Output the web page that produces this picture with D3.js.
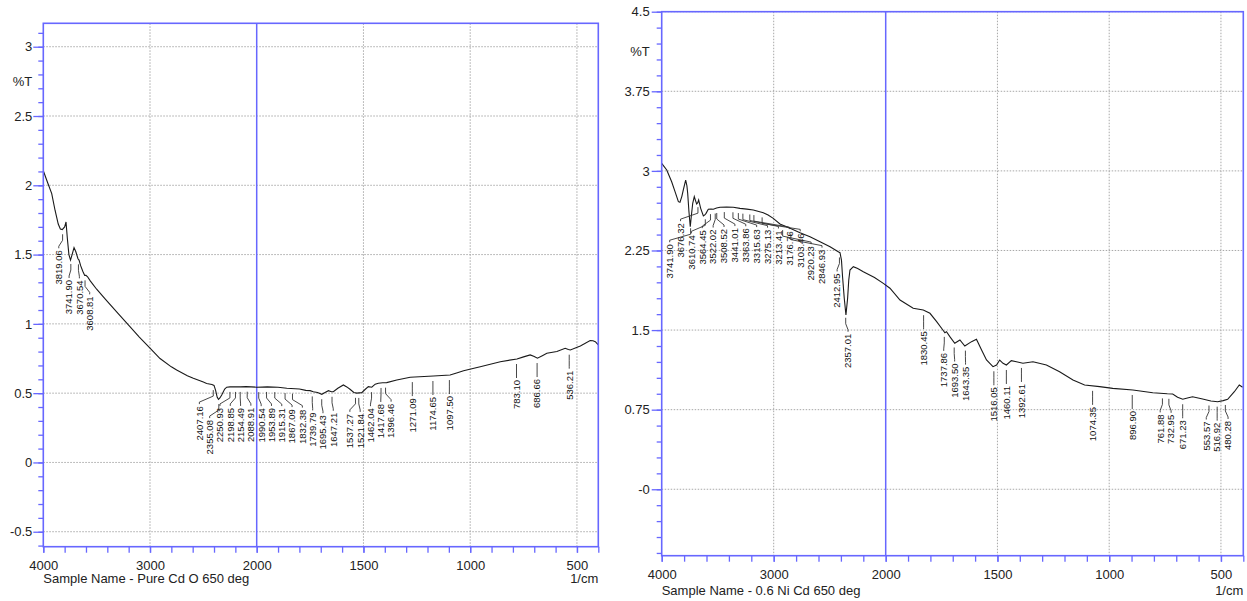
<!DOCTYPE html>
<html>
<head>
<meta charset="utf-8">
<script src="https://cdn.jsdelivr.net/npm/d3@7"></script>
<style>
  body { margin: 0; background: #fff; }
  svg { display: block; font-family: "Liberation Sans", Arial, sans-serif; }
</style>
</head>
<body>
<div id="chart"></div>
<script>
// ---- Pure CdO 650 deg ----
const cdoWave = [4000, 3960, 3921, 3890, 3860, 3840, 3822, 3800, 3787, 3775, 3760, 3745, 3730, 3712, 3695, 3675, 3665, 3650, 3630, 3612,
  3600, 3585, 3560, 3500, 3421, 3300, 3188, 3100, 3000, 2906, 2800, 2750, 2650, 2594, 2500, 2469, 2420, 2400, 2385, 2370,
  2358, 2345, 2328, 2300, 2281, 2250, 2200, 2150, 2100, 2000, 1950, 1900, 1859, 1800, 1770, 1750, 1735, 1715, 1695, 1680,
  1664, 1650, 1641, 1620, 1594, 1578, 1563, 1545, 1531, 1508, 1490, 1477, 1461, 1445, 1430, 1410, 1391, 1344, 1281, 1172,
  1094, 1060, 1031, 953, 859, 781, 750, 719, 700, 685, 660, 641, 594, 555, 540, 531, 484, 438, 425, 414, 400];
const cdoT = [2.105, 2.02, 1.94, 1.82, 1.72, 1.685, 1.68, 1.70, 1.735, 1.62, 1.50, 1.46, 1.50, 1.55, 1.52, 1.47, 1.46, 1.42, 1.38, 1.35,
  1.35, 1.34, 1.31, 1.25, 1.18, 1.075, 0.98, 0.905, 0.825, 0.75, 0.69, 0.667, 0.625, 0.607, 0.58, 0.57, 0.562, 0.556, 0.52, 0.47,
  0.455, 0.465, 0.487, 0.53, 0.543, 0.545, 0.545, 0.545, 0.547, 0.543, 0.545, 0.543, 0.535, 0.53, 0.52, 0.518, 0.51, 0.505, 0.492, 0.505,
  0.518, 0.51, 0.51, 0.535, 0.559, 0.545, 0.528, 0.505, 0.50, 0.504, 0.53, 0.547, 0.543, 0.565, 0.571, 0.575, 0.576, 0.595, 0.615, 0.624,
  0.631, 0.648, 0.662, 0.691, 0.727, 0.747, 0.762, 0.776, 0.765, 0.752, 0.772, 0.788, 0.80, 0.824, 0.815, 0.812, 0.84, 0.879, 0.878, 0.872, 0.848];
const cdoPeaks = [3819.06, 3741.90, 3670.54, 3608.81, 2407.16, 2355.08, 2250.93, 2198.85, 2154.49, 2088.91, 1990.54, 1953.89,
  1915.31, 1867.09, 1832.38, 1739.79, 1695.43, 1647.21, 1537.27, 1521.84, 1462.04, 1417.68, 1396.46, 1271.09, 1174.65,
  1097.50, 783.10, 686.66, 536.21];
const cdoYTicks = [-0.5, 0, 0.5, 1, 1.5, 2, 2.5, 3];
const cdoYTickLabels = ["-0.5", "0", "0.5", "1", "1.5", "2", "2.5", "3"];

// ---- 0.6 Ni Cd 650 deg ----
const niWave = [4000, 3955, 3911, 3881, 3851, 3837, 3820, 3807, 3786, 3775, 3768, 3757, 3745, 3735, 3723, 3709, 3698, 3688, 3678, 3670,
  3652, 3628, 3615, 3604, 3584, 3560, 3539, 3510, 3479, 3420, 3361, 3301, 3240, 3182, 3093, 3050, 3004, 2944, 2854, 2765,
  2676, 2586, 2497, 2420, 2408, 2395, 2385, 2370, 2355, 2340, 2330, 2319, 2289, 2250, 2200, 2100, 2021, 1981, 1936, 1877,
  1832, 1802, 1772, 1750, 1735, 1728, 1713, 1691, 1668, 1646, 1616, 1594, 1571, 1549, 1520, 1504, 1490, 1475, 1460, 1438,
  1415, 1386, 1341, 1281, 1222, 1162, 1110, 1043, 984, 894, 805, 740, 716, 694, 671, 650, 627, 582, 545, 515,
  490, 470, 440, 418, 403];
const niT = [3.071, 3.008, 2.898, 2.804, 2.71, 2.704, 2.76, 2.82, 2.914, 2.86, 2.789, 2.62, 2.474, 2.58, 2.695, 2.757, 2.72, 2.688, 2.70, 2.726,
  2.647, 2.575, 2.585, 2.60, 2.638, 2.64, 2.638, 2.65, 2.657, 2.66, 2.657, 2.647, 2.64, 2.632, 2.606, 2.585, 2.553, 2.50, 2.459, 2.418,
  2.38, 2.333, 2.286, 2.235, 2.229, 2.16, 2.0, 1.80, 1.642, 1.80, 1.97, 2.066, 2.097, 2.08, 2.05, 1.995, 1.94, 1.894, 1.783, 1.705,
  1.689, 1.658, 1.579, 1.517, 1.475, 1.485, 1.438, 1.376, 1.407, 1.35, 1.391, 1.413, 1.312, 1.218, 1.155, 1.171, 1.218, 1.187, 1.171, 1.212,
  1.202, 1.187, 1.202, 1.171, 1.108, 1.03, 0.983, 0.967, 0.951, 0.935, 0.91, 0.90, 0.898, 0.867, 0.848, 0.86, 0.872, 0.85, 0.832, 0.825,
  0.835, 0.848, 0.919, 0.983, 0.961];
const niPeaks = [3741.90, 3676.32, 3610.74, 3564.45, 3522.02, 3508.52, 3441.01, 3363.86, 3315.63, 3275.13, 3213.41, 3176.76,
  3103.46, 2920.23, 2846.93, 2412.95, 2357.01, 1830.45, 1737.86, 1693.50, 1643.35, 1516.05, 1460.11, 1392.61, 1074.35,
  896.90, 761.88, 732.95, 671.23, 553.57, 516.92, 480.28];
const niYTicks = [0, 0.75, 1.5, 2.25, 3, 3.75, 4.5];
const niYTickLabels = ["-0", "0.75", "1.5", "2.25", "3", "3.75", "4.5"];

const xTickValues = [4000, 3000, 2000, 1500, 1000, 500];
const xGridValues = [3000, 1500, 1000, 500];
const sampleNames = ["Sample Name - Pure Cd O 650 deg", "Sample Name - 0.6 Ni Cd 650 deg"];
const xUnit = "1/cm";
const yUnit = "%T";

const blue = "#6767ff";

const svg = d3.select("#chart").append("svg")
  .attr("width", 1247)
  .attr("height", 601);

const panels = [
  { wave: cdoWave, t: cdoT, peaks: cdoPeaks, yTicks: cdoYTicks, yLabels: cdoYTickLabels, yMinor: 0.1,
    yDomain: [-0.608, 3.169], name: sampleNames[0],
    left: 43.3, mid: 256.7, right: 598.3, top: 23.3, bottom: 546.7, nameGap: 36, yLabelGap: 11, gap: 10.3 },
  { wave: niWave, t: niT, peaks: niPeaks, yTicks: niYTicks, yLabels: niYTickLabels, yMinor: 0.15,
    yDomain: [-0.626, 4.5], name: sampleNames[1],
    left: 661.7, mid: 885.7, right: 1243.3, top: 11.7, bottom: 555.7, nameGap: 39, yLabelGap: 12, gap: 10.9 }
];

// push crowded labels apart, keeping each cluster centred (but inside the frame)
function spread(xs, gap, minX) {
  const p = xs.slice();
  for (let it = 0; it < 400; it++) {
    for (let i = 0; i < p.length - 1; i++) {
      const d = p[i + 1] - p[i];
      if (d < gap) {
        const m = (gap - d) / 2;
        p[i] -= m;
        p[i + 1] += m;
      }
    }
    if (p[0] < minX) p[0] = minX;
  }
  return p;
}

function valueAt(wave, t, w) {
  for (let i = 0; i < wave.length - 1; i++) {
    if (wave[i] >= w && wave[i + 1] <= w) {
      const f = (wave[i] - w) / (wave[i] - wave[i + 1]);
      return t[i] + f * (t[i + 1] - t[i]);
    }
  }
  return t[t.length - 1];
}

panels.forEach(p => {
  const g = svg.append("g");

  const x = d3.scaleLinear()
    .domain([4000, 2000, 400])
    .range([p.left, p.mid, p.right]);

  const y = d3.scaleLinear()
    .domain(p.yDomain)
    .range([p.bottom, p.top]);

  // grid
  g.append("g").selectAll("line.gx")
    .data(xGridValues)
    .enter().append("line")
    .attr("x1", d => x(d)).attr("x2", d => x(d))
    .attr("y1", p.top).attr("y2", p.bottom)
    .attr("stroke", "#a8a8a8")
    .attr("stroke-dasharray", "1.5,1.5");

  g.append("g").selectAll("line.gy")
    .data(p.yTicks)
    .enter().append("line")
    .attr("x1", p.left).attr("x2", p.right)
    .attr("y1", d => y(d)).attr("y2", d => y(d))
    .attr("stroke", "#a8a8a8")
    .attr("stroke-dasharray", "1.5,1.5");

  // 2000 marker
  g.append("line")
    .attr("x1", x(2000)).attr("x2", x(2000))
    .attr("y1", p.top).attr("y2", p.bottom)
    .attr("stroke", blue)
    .attr("stroke-width", 1.5);

  // spectrum
  const line = d3.line()
    .x(d => x(d[0]))
    .y(d => y(d[1]));

  g.append("path")
    .datum(d3.zip(p.wave, p.t))
    .attr("d", line)
    .attr("fill", "none")
    .attr("stroke", "#1a1a1a")
    .attr("stroke-width", 1.1);

  // peak labels
  const px = p.peaks.map(w => x(w));
  const lx = spread(px, p.gap, p.left + 8);
  const leader = d3.line();

  p.peaks.forEach((w, i) => {
    const c = y(valueAt(p.wave, p.t, w));
    g.append("path")
      .attr("d", leader([[px[i], c + 5], [px[i], c + 11], [lx[i], c + 17], [lx[i], c + 19]]))
      .attr("fill", "none")
      .attr("stroke", "#333")
      .attr("stroke-width", 0.9);
    g.append("text")
      .attr("transform", `translate(${lx[i]},${c + 21}) rotate(-90)`)
      .attr("text-anchor", "end")
      .attr("dy", "0.35em")
      .attr("font-size", "9.5px")
      .attr("fill", "#111")
      .text(w.toFixed(2));
  });

  // axes
  const minorX = d3.range(4000, 2000, -200).concat(d3.range(2000, 399, -100));
  g.append("g")
    .attr("transform", `translate(0,${p.bottom})`)
    .call(d3.axisBottom(x).tickValues(minorX).tickSize(6).tickFormat(""));

  g.append("g")
    .attr("transform", `translate(0,${p.bottom})`)
    .call(d3.axisBottom(x).tickValues(xTickValues).tickSize(6).tickPadding(8).tickFormat(d3.format("d")));

  const s = p.yMinor;
  const minorY = d3.range(Math.ceil(p.yDomain[0] / s - 1e-6), Math.floor(p.yDomain[1] / s + 1e-6) + 1)
    .map(i => +(i * s).toFixed(3));
  g.append("g")
    .attr("transform", `translate(${p.left},0)`)
    .call(d3.axisLeft(y).tickValues(minorY).tickSize(5).tickFormat(""));

  g.append("g")
    .attr("transform", `translate(${p.left},0)`)
    .call(d3.axisLeft(y).tickValues(p.yTicks).tickSize(10).tickPadding(p.yLabelGap - 10)
      .tickFormat((d, i) => p.yLabels[i]));

  g.selectAll(".domain").remove();
  g.selectAll(".tick line").attr("stroke", blue).attr("stroke-width", 1.3);
  g.selectAll(".tick text")
    .attr("fill", "#222")
    .attr("font-size", "13px")
    .attr("font-family", "Liberation Sans, Arial, sans-serif");

  // frame
  g.append("rect")
    .attr("x", p.left).attr("y", p.top)
    .attr("width", p.right - p.left)
    .attr("height", p.bottom - p.top)
    .attr("fill", "none")
    .attr("stroke", blue)
    .attr("stroke-width", 1.6);

  // texts
  g.append("text")
    .attr("x", p.left - p.yLabelGap)
    .attr("y", (y(p.yTicks[p.yTicks.length - 1]) + y(p.yTicks[p.yTicks.length - 2])) / 2)
    .attr("dy", "0.35em")
    .attr("text-anchor", "end")
    .attr("font-size", "13px")
    .attr("fill", "#222")
    .text(yUnit);

  g.append("text")
    .attr("x", p.left)
    .attr("y", p.bottom + p.nameGap)
    .attr("font-size", "13px")
    .attr("fill", "#222")
    .text(p.name);

  g.append("text")
    .attr("x", p.right)
    .attr("y", p.bottom + p.nameGap)
    .attr("text-anchor", "end")
    .attr("font-size", "13px")
    .attr("fill", "#222")
    .text(xUnit);
});
</script>
</body>
</html>
